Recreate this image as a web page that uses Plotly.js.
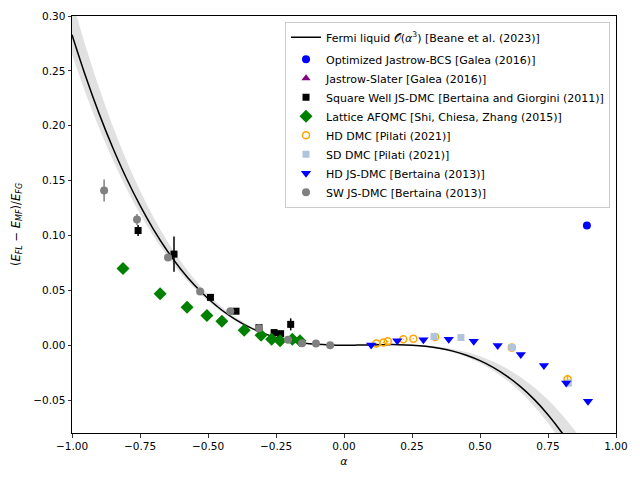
<!DOCTYPE html>
<html>
<head>
<meta charset="utf-8">
<script src="https://cdn.plot.ly/plotly-3.0.1.min.js"></script>
<style>
  html, body { margin: 0; padding: 0; background: #fff; }
  #chart { width: 640px; height: 480px; }
</style>
</head>
<body>
<div id="chart"></div>
<script>
// Fermi-liquid O(alpha^3) curve and its uncertainty band
const flAlpha = [-1.00, -0.95, -0.90, -0.85, -0.80, -0.75, -0.70, -0.65, -0.60, -0.55,
                 -0.50, -0.45, -0.40, -0.35, -0.30, -0.25, -0.20, -0.15, -0.10, -0.05,
                  0.00,  0.05,  0.10,  0.15,  0.20,  0.25,  0.30,  0.35,  0.40,  0.45,
                  0.50,  0.55,  0.60,  0.65,  0.70,  0.75,  0.80,  0.85,  0.90];
const flValue = [0.2829, 0.2451, 0.2108, 0.1799, 0.1521, 0.1274, 0.1054, 0.0861, 0.0693, 0.0548,
                 0.0425, 0.0321, 0.0236, 0.0167, 0.0112, 0.0071, 0.0041, 0.0020, 0.0008, 0.0002,
                 0.0000, 0.0001, 0.0003, 0.0005, 0.0005, 0.0000, -0.0010, -0.0027, -0.0054, -0.0091,
                 -0.0140, -0.0204, -0.0283, -0.0380, -0.0496, -0.0633, -0.0793, -0.0977, -0.1187];
const flUpper = [0.3149, 0.2725, 0.2341, 0.1996, 0.1685, 0.1409, 0.1164, 0.0949, 0.0762, 0.0601,
                 0.0465, 0.0350, 0.0256, 0.0181, 0.0121, 0.0076, 0.0044, 0.0021, 0.0008, 0.0002,
                 0.0000, 0.0001, 0.0003, 0.0006, 0.0008, 0.0005, -0.0001, -0.0013, -0.0034, -0.0062,
                 -0.0100, -0.0151, -0.0214, -0.0292, -0.0386, -0.0498, -0.0629, -0.0781, -0.0954];
const flLower = [0.2649, 0.2297, 0.1977, 0.1689, 0.1429, 0.1198, 0.0992, 0.0812, 0.0654, 0.0518,
                 0.0402, 0.0305, 0.0224, 0.0159, 0.0107, 0.0068, 0.0040, 0.0019, 0.0008, 0.0002,
                 0.0000, 0.0001, 0.0003, 0.0004, 0.0004, -0.0003, -0.0015, -0.0035, -0.0066, -0.0107,
                 -0.0163, -0.0234, -0.0322, -0.0429, -0.0558, -0.0709, -0.0885, -0.1087, -0.1318];

// Optimized Jastrow-BCS [Galea (2016)]
const jbcsAlpha = [0.893];
const jbcsValue = [0.109];

// Jastrow-Slater [Galea (2016)]: nothing falls inside the plotted window
const jsAlpha = [null];
const jsValue = [null];

// Square Well JS-DMC [Bertaina and Giorgini (2011)]
const swAlpha = [-0.757, -0.625, -0.491, -0.397, -0.3125, -0.257, -0.233, -0.196];
const swValue = [0.1045, 0.083, 0.0436, 0.031, 0.016, 0.0115, 0.0105, 0.019];
const swError = [0.005, 0.016, 0.002, 0.002, 0.0015, 0.0015, 0.0015, 0.0055];

// Lattice AFQMC [Shi, Chiesa, Zhang (2015)]
const afAlpha = [-0.8125, -0.676, -0.577, -0.504, -0.449, -0.367, -0.305, -0.266, -0.235, -0.19, -0.162];
const afValue = [0.070, 0.047, 0.0345, 0.027, 0.0218, 0.0136, 0.009, 0.0055, 0.004, 0.0055, 0.004];

// HD DMC [Pilati (2021)]
const hdAlpha = [0.119, 0.145, 0.161, 0.218, 0.255, 0.335, 0.617, 0.822];
const hdValue = [0.0015, 0.0025, 0.0035, 0.0055, 0.006, 0.0075, -0.0022, -0.031];
const hdError = [0.0005, 0.0005, 0.0005, 0.0005, 0.0005, 0.0005, 0.0008, 0.004];

// SD DMC [Pilati (2021)]
const sdAlpha = [0.331, 0.430, 0.617, 0.825];
const sdValue = [0.0079, 0.007, -0.0021, -0.0345];

// HD JS-DMC [Bertaina (2013)]
const hdjsAlpha = [0.10, 0.196, 0.292, 0.385, 0.477, 0.565, 0.650, 0.735, 0.817, 0.897];
const hdjsValue = [0.0003, 0.004, 0.005, 0.0055, 0.0035, -0.0003, -0.0085, -0.0185, -0.0345, -0.051];

// SW JS-DMC [Bertaina (2013)]
const swjsAlpha = [-0.882, -0.761, -0.647, -0.529, -0.418, -0.3125, -0.206, -0.154, -0.103, -0.051];
const swjsValue = [0.141, 0.1145, 0.080, 0.049, 0.031, 0.0155, 0.005, 0.0018, 0.0015, 0.0];
const swjsError = [0.010, 0.005, 0.002, 0.001, 0.001, 0.001, 0.001, 0.0005, 0.0005, 0.0005];

const font = 'DejaVu Sans, sans-serif';

function errY(arr, color) {
  return { type: 'data', array: arr, visible: true, color: color, thickness: 1.5, width: 0 };
}

const traces = [
  { x: flAlpha, y: flLower, mode: 'lines', line: { width: 0, shape: 'spline' },
    showlegend: false, hoverinfo: 'skip', legendgroup: 'fl' },
  { x: flAlpha, y: flUpper, mode: 'lines', line: { width: 0, shape: 'spline' },
    fill: 'tonexty', fillcolor: 'rgba(128,128,128,0.24)',
    showlegend: false, hoverinfo: 'skip', legendgroup: 'fl' },
  { x: flAlpha, y: flValue, mode: 'lines', line: { color: '#000', width: 1.5, shape: 'spline' },
    name: 'Fermi liquid \uD835\uDCAA(<i>α</i><sup>3</sup>) [Beane et al. (2023)]', legendgroup: 'fl' },
  { x: jbcsAlpha, y: jbcsValue, mode: 'markers', legendgroup: 'pts',
    marker: { symbol: 'circle', size: 8, color: 'blue' },
    name: 'Optimized Jastrow-BCS [Galea (2016)]' },
  { x: jsAlpha, y: jsValue, mode: 'markers', legendgroup: 'pts',
    marker: { symbol: 'triangle-up', size: 8, color: 'purple' },
    name: 'Jastrow-Slater [Galea (2016)]' },
  { x: swAlpha, y: swValue, mode: 'markers', legendgroup: 'pts',
    marker: { symbol: 'square', size: 7, color: 'black' },
    error_y: errY(swError, 'black'),
    name: 'Square Well JS-DMC [Bertaina and Giorgini (2011)]' },
  { x: afAlpha, y: afValue, mode: 'markers', legendgroup: 'pts',
    marker: { symbol: 'diamond', size: 10, color: 'green' },
    name: 'Lattice AFQMC [Shi, Chiesa, Zhang (2015)]' },
  { x: hdAlpha, y: hdValue, mode: 'markers', legendgroup: 'pts',
    marker: { symbol: 'circle-open', size: 7, color: 'orange', line: { width: 1.5, color: 'orange' } },
    error_y: errY(hdError, 'orange'),
    name: 'HD DMC [Pilati (2021)]' },
  { x: sdAlpha, y: sdValue, mode: 'markers', legendgroup: 'pts',
    marker: { symbol: 'square', size: 7, color: 'lightsteelblue' },
    name: 'SD DMC [Pilati (2021)]' },
  { x: hdjsAlpha, y: hdjsValue, mode: 'markers', legendgroup: 'pts',
    marker: { symbol: 'triangle-down', size: 9, color: 'blue' },
    name: 'HD JS-DMC [Bertaina (2013)]' },
  { x: swjsAlpha, y: swjsValue, mode: 'markers', legendgroup: 'pts',
    marker: { symbol: 'circle', size: 8, color: 'gray' },
    error_y: errY(swjsError, 'gray'),
    name: 'SW JS-DMC [Bertaina (2013)]' }
];

const axisCommon = {
  showline: true, mirror: true, linecolor: '#000', linewidth: 1,
  ticks: 'outside', ticklen: 3.5, tickwidth: 0.8, tickcolor: '#000',
  showgrid: false, zeroline: false, tickformat: '.2f',
  tickfont: { family: font, size: 10.5, color: '#000' }
};

const layout = {
  width: 640, height: 480,
  margin: { l: 72, r: 24, t: 16, b: 47 },
  paper_bgcolor: '#fff', plot_bgcolor: '#fff',
  font: { family: font, size: 10, color: '#000' },
  xaxis: Object.assign({}, axisCommon, {
    range: [-1, 1], dtick: 0.25, tick0: 0,
    title: { text: '<i>α</i>', font: { family: font, size: 11 }, standoff: 6 }
  }),
  yaxis: Object.assign({}, axisCommon, {
    range: [-0.08, 0.30], dtick: 0.05, tick0: 0,
    title: { text: '(<i>E</i><sub><i>FL</i></sub> − <i>E</i><sub><i>MF</i></sub>)/<i>E</i><sub><i>FG</i></sub>',
             font: { family: font, size: 11.5 }, standoff: 10 }
  }),
  legend: {
    x: 0.989, y: 0.986, xanchor: 'right', yanchor: 'top',
    bgcolor: 'rgba(255,255,255,0.8)', bordercolor: '#ccc', borderwidth: 1,
    font: { family: font, size: 11, color: '#000' },
    traceorder: 'grouped', tracegroupgap: 3, itemwidth: 30
  },
  showlegend: true
};

Plotly.newPlot('chart', traces, layout, { displayModeBar: false, staticPlot: true });
</script>
</body>
</html>
